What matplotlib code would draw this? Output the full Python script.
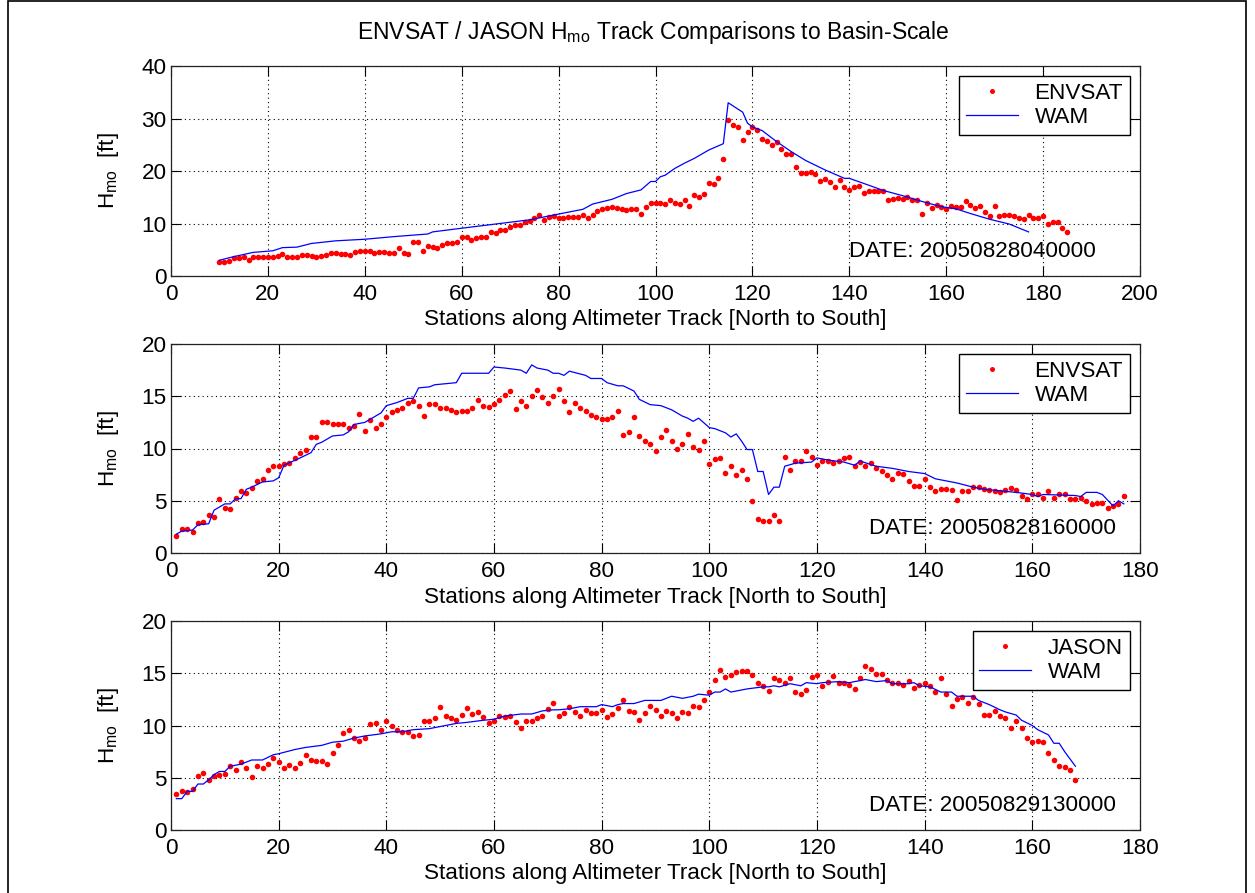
import matplotlib
matplotlib.use("Agg")
import matplotlib.pyplot as plt
from matplotlib.patches import Rectangle

# ---------------- data ----------------
env1_start = 10
env1_h = [2.7, 2.7, 2.9, 3.4, 3.4, 3.6, 3.0, 3.7, 3.6, 3.6,
          3.7, 3.6, 3.8, 4.2, 3.6, 3.7, 3.6, 4.0, 4.0, 3.8,
          3.6, 3.8, 4.0, 4.4, 4.3, 4.2, 4.2, 4.0, 4.5, 4.8,
          4.8, 4.8, 4.4, 4.5, 4.5, 4.3, 4.3, 5.3, 4.3, 4.1,
          6.5, 6.5, 4.8, 5.7, 5.6, 5.3, 5.9, 6.3, 6.2, 6.5,
          7.4, 7.4, 6.9, 7.3, 7.5, 7.5, 8.4, 8.1, 8.8, 8.8,
          9.4, 9.7, 9.7, 10.3, 10.5, 11.1, 11.7, 10.7, 11.3, 11.4,
          11.1, 11.0, 11.2, 11.3, 11.3, 11.6, 11.0, 11.6, 12.3, 12.7,
          13.0, 13.2, 12.9, 12.7, 12.6, 12.7, 12.7, 11.9, 13.2, 14.0,
          14.0, 14.0, 13.7, 14.5, 14.0, 13.7, 14.5, 13.3, 15.4, 15.1,
          15.7, 17.7, 17.5, 18.6, 22.2, 29.8, 28.8, 28.3, 25.9, 27.4,
          28.4, 27.8, 26.1, 25.8, 25.0, 25.5, 24.1, 23.2, 23.2, 20.8,
          19.7, 19.7, 19.9, 19.4, 18.1, 18.5, 18.0, 17.0, 18.2, 16.9,
          16.3, 16.9, 17.1, 15.9, 16.1, 16.1, 16.1, 16.1, 14.5, 14.6,
          14.9, 14.6, 15.0, 14.5, 14.5, 11.9, 14.0, 12.9, 13.5, 13.1,
          12.7, 13.3, 13.2, 13.2, 14.3, 13.5, 12.9, 13.3, 12.1, 11.4,
          13.3, 11.5, 11.6, 11.6, 11.4, 11.1, 10.9, 11.7, 11.0, 11.0,
          11.5, 10.0, 10.2, 10.2, 9.1, 8.4]
wam1_x = [10, 13, 17, 21, 23, 26, 29, 34, 40, 46, 53, 54, 60, 67, 74, 80,
          85, 87, 91, 94, 97, 99, 100, 101, 102, 104, 106, 108, 111, 114,
          115, 118, 119, 120, 122, 125, 128, 131, 135, 139, 140, 144, 147,
          151, 155, 159, 162, 165, 169, 173, 177]
wam1_h = [3.0, 3.7, 4.5, 4.8, 5.4, 5.5, 6.2, 6.7, 7.0, 7.5, 8.0, 8.4, 9.1,
          9.9, 10.7, 11.8, 12.7, 13.7, 14.6, 15.7, 16.4, 18.0, 18.0, 18.9,
          19.2, 20.5, 21.5, 22.4, 24.0, 25.2, 33.0, 31.2, 29.1, 28.4, 27.7,
          25.6, 23.7, 22.0, 20.2, 18.6, 18.6, 17.3, 16.3, 15.3, 14.2, 13.2,
          12.8, 11.9, 10.8, 9.9, 8.4]

env2_start = 1
env2_h = [1.6, 2.3, 2.3, 2.0, 2.9, 3.0, 3.6, 3.4, 5.2, 4.3,
          4.2, 5.3, 5.9, 5.7, 6.2, 6.9, 7.1, 7.9, 8.3, 8.3,
          8.5, 8.6, 9.1, 9.6, 9.9, 11.1, 11.1, 12.5, 12.5, 12.3,
          12.3, 12.3, 12.0, 12.2, 13.3, 11.7, 12.7, 12.0, 12.3, 13.0,
          13.5, 13.7, 13.9, 14.4, 14.5, 14.1, 13.1, 14.3, 14.3, 13.9,
          13.9, 13.7, 13.5, 13.6, 13.6, 13.9, 14.6, 14.1, 14.0, 14.3,
          14.6, 15.1, 15.5, 13.8, 14.5, 14.1, 15.0, 15.6, 14.9, 14.4,
          15.0, 15.7, 14.5, 13.5, 14.4, 13.9, 13.6, 13.2, 13.0, 12.8,
          12.8, 13.0, 13.6, 11.3, 11.6, 13.0, 11.2, 10.7, 10.4, 9.8,
          11.1, 11.8, 10.7, 10.0, 10.4, 11.4, 10.1, 9.9, 10.7, 8.5,
          9.0, 9.1, 7.7, 8.3, 7.5, 7.9, 7.1, 5.0, 3.3, 3.1,
          3.1, 3.6, 3.1, 9.2, 7.9, 8.8, 8.8, 9.8, 9.2, 8.4,
          8.8, 8.8, 8.6, 8.8, 9.1, 9.2, 8.3, 8.7, 8.3, 8.6,
          8.1, 7.8, 7.5, 7.1, 7.7, 7.6, 6.9, 6.4, 6.4, 7.1,
          6.3, 5.9, 6.1, 6.1, 6.0, 5.1, 5.9, 5.9, 6.3, 6.3,
          6.1, 6.0, 5.9, 5.8, 6.0, 6.2, 6.0, 5.5, 5.2, 5.6,
          5.6, 5.3, 5.9, 5.3, 5.6, 5.6, 5.2, 5.2, 5.3, 5.0,
          4.7, 4.8, 4.8, 4.3, 4.5, 4.7, 5.5]
wam2_x = [1, 2, 4, 5, 7, 8, 10, 11, 12, 13, 14, 15, 17, 19, 20, 21, 24, 26,
          27, 28, 30, 32, 33, 34, 36, 38, 39, 40, 42, 44, 45, 46, 48, 49, 51,
          53, 54, 59, 60, 62, 65, 66, 67, 68, 70, 71, 72, 73, 74, 77, 78, 80,
          81, 83, 84, 86, 87, 89, 91, 93, 95, 96, 97, 98, 100, 101, 103, 104,
          105, 106, 107, 108, 109, 110, 111, 112, 113, 114, 116, 119, 120,
          122, 125, 127, 128, 131, 134, 137, 140, 142, 146, 149, 151, 155,
          157, 160, 161, 162, 168, 169, 170, 172, 173, 175, 176, 177]
wam2_h = [1.8, 2.1, 2.2, 2.7, 2.8, 4.1, 4.7, 4.7, 5.2, 5.2, 6.1, 6.3, 6.8,
          6.9, 7.2, 8.4, 9.1, 9.6, 10.4, 10.6, 11.2, 11.3, 11.6, 12.3, 12.5,
          13.1, 13.4, 14.1, 14.4, 14.8, 14.8, 15.8, 15.9, 16.1, 16.2, 16.3,
          17.2, 17.2, 17.8, 17.7, 17.5, 17.2, 18.0, 17.7, 17.5, 17.2, 17.2,
          17.0, 17.4, 17.0, 16.7, 16.7, 16.3, 16.0, 16.0, 15.5, 14.7, 14.2,
          14.1, 13.7, 13.1, 12.9, 12.6, 12.9, 12.0, 11.9, 11.5, 11.1, 11.4,
          10.7, 9.9, 9.9, 7.8, 7.8, 5.6, 6.3, 6.3, 8.3, 8.6, 8.7, 9.1, 8.9,
          8.7, 8.4, 8.8, 8.3, 8.1, 7.8, 7.6, 7.1, 6.7, 6.3, 6.1, 5.9, 5.8,
          5.6, 5.4, 5.6, 5.5, 5.4, 5.8, 5.8, 5.6, 4.5, 5.0, 4.7]

jas3_start = 1
jas3_h = [3.4, 3.7, 3.6, 3.9, 5.2, 5.5, 4.8, 5.2, 5.3, 5.4,
          6.1, 5.7, 6.5, 5.9, 5.1, 6.1, 5.9, 6.3, 6.9, 6.5,
          5.9, 6.2, 5.9, 6.4, 7.2, 6.7, 6.6, 6.6, 6.3, 7.4,
          8.1, 9.3, 9.6, 8.8, 8.5, 8.8, 10.1, 10.2, 9.6, 10.4,
          10.0, 9.6, 9.4, 9.4, 9.0, 9.1, 10.4, 10.4, 10.7, 11.8,
          10.9, 10.7, 10.5, 11.0, 11.7, 11.1, 11.3, 10.8, 10.2, 10.4,
          10.9, 10.8, 10.9, 10.3, 9.8, 10.4, 10.4, 10.7, 10.9, 11.6,
          12.2, 10.9, 11.2, 11.8, 11.3, 10.9, 11.5, 11.2, 11.2, 11.5,
          10.8, 11.1, 11.7, 12.4, 11.4, 11.3, 10.5, 11.2, 11.9, 11.5,
          10.9, 11.4, 11.2, 10.7, 11.3, 11.2, 11.9, 11.8, 12.4, 13.2,
          14.4, 15.3, 14.6, 14.8, 15.1, 15.2, 15.2, 14.8, 14.1, 13.8,
          13.3, 14.5, 14.4, 14.1, 14.5, 13.2, 13.0, 13.4, 14.6, 14.8,
          13.8, 14.2, 14.7, 14.1, 14.1, 13.9, 13.5, 14.5, 15.7, 15.4,
          14.9, 14.9, 14.4, 14.1, 14.1, 13.9, 14.3, 13.6, 13.9, 14.1,
          13.8, 13.2, 14.5, 13.0, 11.9, 12.5, 12.7, 12.2, 12.7, 12.1,
          11.0, 11.0, 11.4, 10.9, 10.7, 9.8, 10.4, 9.8, 8.8, 8.4,
          8.5, 8.4, 7.4, 6.7, 6.1, 6.0, 5.7, 4.8]
wam3_x = [1, 2, 3, 4, 5, 6, 7, 8, 9, 10, 11, 13, 15, 17, 19, 20, 23, 25, 28,
          30, 32, 34, 36, 39, 41, 43, 45, 48, 50, 51, 53, 55, 58, 60, 62, 65,
          67, 69, 71, 72, 74, 76, 79, 80, 82, 83, 84, 86, 88, 91, 92, 93, 95,
          97, 98, 100, 101, 102, 103, 104, 106, 107, 110, 111, 112, 113, 115,
          117, 118, 120, 121, 124, 126, 129, 131, 133, 134, 137, 138, 139,
          141, 143, 145, 146, 149, 150, 152, 154, 155, 157, 158, 160, 161,
          163, 164, 165, 166, 168]
wam3_h = [3.0, 3.0, 3.7, 3.7, 4.4, 4.4, 4.8, 5.3, 5.6, 5.6, 6.1, 6.3, 6.7,
          6.7, 7.2, 7.3, 7.7, 7.9, 8.1, 8.4, 8.5, 8.8, 9.0, 9.2, 9.4, 9.4,
          9.6, 9.7, 9.9, 10.0, 10.2, 10.3, 10.5, 10.6, 10.9, 11.1, 11.1,
          11.4, 11.5, 11.5, 11.6, 11.8, 11.8, 12.0, 11.8, 12.0, 12.1, 12.1,
          12.4, 12.4, 12.6, 12.8, 12.6, 12.8, 13.0, 12.9, 13.2, 13.2, 13.5,
          13.2, 13.4, 13.5, 13.7, 13.7, 13.8, 13.7, 14.0, 13.8, 14.1, 14.0,
          14.1, 14.2, 14.1, 14.4, 14.2, 14.3, 14.0, 14.0, 14.1, 13.8, 13.7,
          13.2, 13.2, 12.8, 12.8, 12.4, 12.0, 11.5, 11.3, 11.0, 10.5, 10.0,
          9.6, 9.1, 8.3, 8.3, 7.5, 6.1]

sat_names = ["ENVSAT", "ENVSAT", "JASON"]
dates = ["DATE: 20050828040000", "DATE: 20050828160000", "DATE: 20050829130000"]
xlims = [200, 180, 180]
ylims = [40, 20, 20]
yticks_list = [[0, 10, 20, 30, 40], [0, 5, 10, 15, 20], [0, 5, 10, 15, 20]]
xticks_list = [list(range(0, 201, 20)), list(range(0, 181, 20)), list(range(0, 181, 20))]
title = r"ENVSAT / JASON H$_{\mathregular{mo}}$ Track Comparisons to Basin-Scale"
xlabel = "Stations along Altimeter Track [North to South]"
ylabel = r"H$_{\mathregular{mo}}$  [ft]"

# ---------------- figure ----------------
plt.rcParams["font.family"] = ["Liberation Sans", "DejaVu Sans"]
plt.rcParams["mathtext.default"] = "regular"
W, H = 1255, 893
fig = plt.figure(figsize=(W / 100, H / 100), dpi=100)

fig.patches.append(Rectangle((8 / W, -0.05), (1246 - 8) / W, 1.05 - 1.5 / H,
                             transform=fig.transFigure, fill=False,
                             edgecolor="black", linewidth=1.2))

panels = [
    (66, 276, env1_start, env1_h, wam1_x, wam1_h),
    (344, 553, env2_start, env2_h, wam2_x, wam2_h),
    (621, 830, jas3_start, jas3_h, wam3_x, wam3_h),
]
left, right = 171, 1140
FS = 16.2

for i, (top, bot, st, sat, wx, wh) in enumerate(panels):
    ax = fig.add_axes([left / W, 1 - bot / H, (right - left) / W, (bot - top) / H])
    sx = list(range(st, st + len(sat)))
    ax.plot(sx, sat, linestyle="none", marker="o", markersize=4,
            color="red", markeredgewidth=0, label=sat_names[i])
    ax.plot(wx, wh, color="blue", linewidth=0.9, label="WAM")
    ax.set_xlim(0, xlims[i])
    ax.set_ylim(0, ylims[i])
    ax.set_xticks(xticks_list[i])
    ax.set_yticks(yticks_list[i])
    ax.grid(True, linestyle=(0, (1, 3)), color="black", linewidth=0.8)
    ax.tick_params(direction="in", length=7, width=0.8, top=True, right=True,
                   labelsize=FS)
    ax.tick_params(axis="x", pad=6)
    ax.tick_params(axis="y", pad=3)
    for s in ax.spines.values():
        s.set_linewidth(0.9)
        s.set_color("#222222")
    ax.set_xlabel(xlabel, fontsize=FS, labelpad=3)
    ax.set_ylabel(ylabel, fontsize=FS)
    ax.yaxis.set_label_coords(-0.052, 0.5)
    leg = ax.legend(loc="upper right", bbox_to_anchor=(1, 1), borderaxespad=0.45,
                    fontsize=FS, frameon=True, fancybox=False, framealpha=1,
                    edgecolor="black", handlelength=2.3, handletextpad=0.75,
                    labelspacing=0.15, borderpad=0.3, markerscale=0.9)
    leg.get_frame().set_linewidth(1.0)
    ax.text(0.70 if i == 0 else 0.72, 0.09, dates[i], transform=ax.transAxes,
            fontsize=FS, ha="left", va="baseline")

fig.text(653 / W, 1 - 33 / H, title, ha="center", va="center", fontsize=16.5,
         family=["Liberation Sans Narrow", "Liberation Sans", "DejaVu Sans"])

fig.savefig("out.png", dpi=100)
